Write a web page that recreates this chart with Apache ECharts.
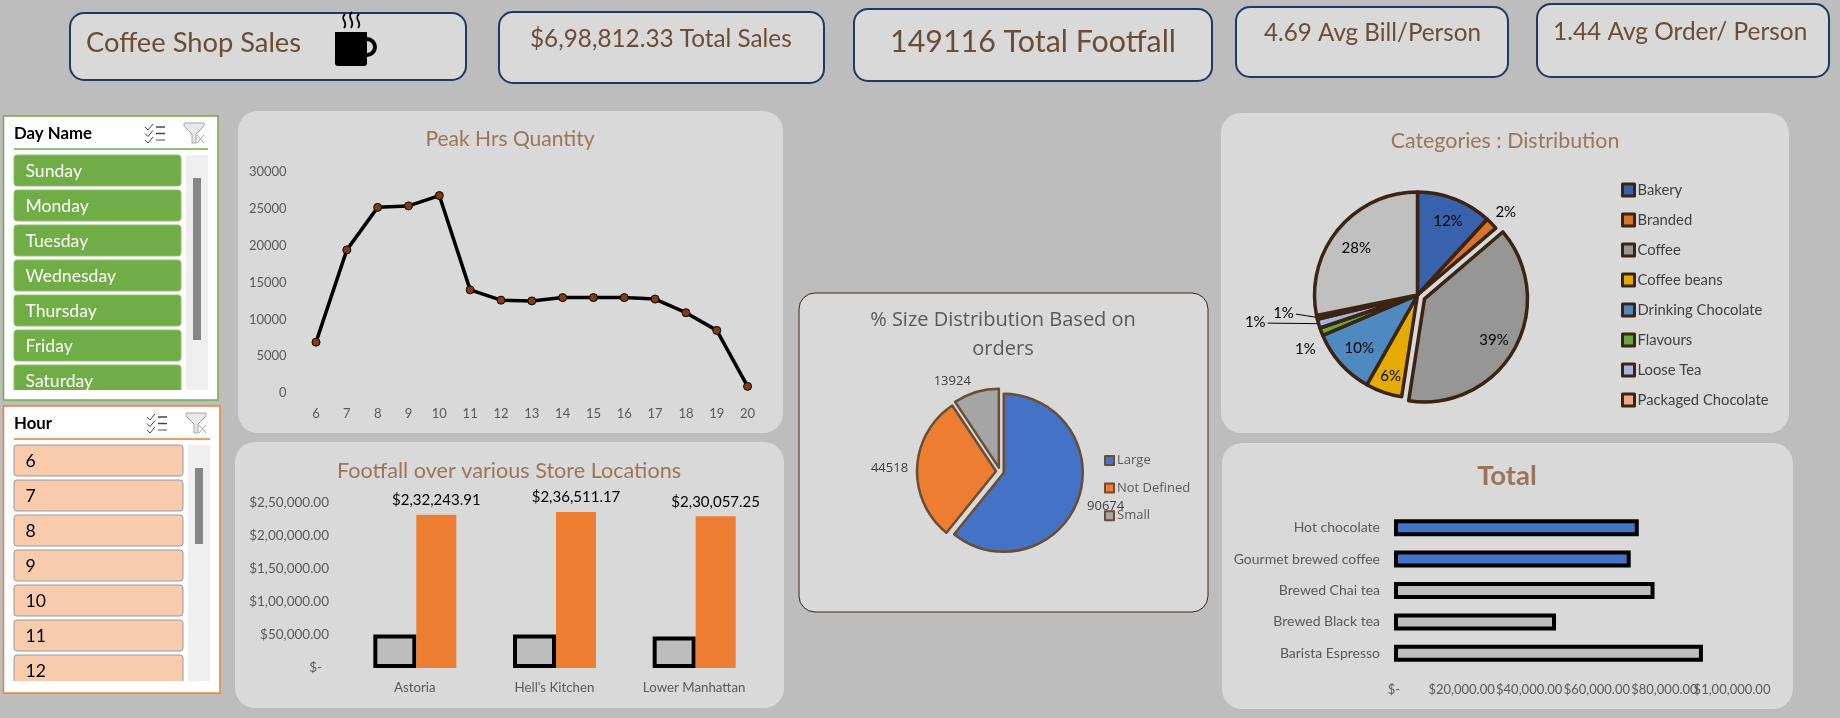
<!DOCTYPE html>
<html><head><meta charset="utf-8">
<style>html,body{margin:0;padding:0;background:#bdbdbd}#c{width:1840px;height:718px}</style>
<script src="https://cdn.jsdelivr.net/npm/echarts@6/dist/echarts.min.js"></script>
</head><body><div id="c"></div>
<script>
const dayNames=['Sunday','Monday','Tuesday','Wednesday','Thursday','Friday','Saturday'];
const hourItems=['6','7','8','9','10','11','12'];
const hours=['6','7','8','9','10','11','12','13','14','15','16','17','18','19','20'];
const hourlyQty=[6900,19430,25200,25400,26800,14000,12600,12500,12950,12950,12950,12750,10900,8500,900];
const stores=['Astoria',"Hell's Kitchen",'Lower Manhattan'];
const storeFootfall=[50599,50735,47782];
const storeSales=[232243.91,236511.17,230057.25];
const storeSalesText=['$2,32,243.91','$2,36,511.17','$2,30,057.25'];
const sizeNames=['Large','Not Defined','Small'];
const sizeOrders=[90674,44518,13924];
const categoryNames=['Bakery','Branded','Coffee','Coffee beans','Drinking Chocolate','Flavours','Loose Tea','Packaged Chocolate','Tea'];
const categoryShare=[11.8,1.9,38.6,5.7,10.4,1.2,1.4,0.6,28.1];
const products=['Barista Espresso','Brewed Black tea','Brewed Chai tea','Gourmet brewed coffee','Hot chocolate'];
const productSales=[91406,47932,77082,70035,72416];

const BG='#d9d9d9',NAVY='#1f3864',KPI='#6b4c34',TITLE='#9c7558',GREY='#595959';
const F='Lato';
const money=v=>{
  if(v===0) return '$-';
  if(v<100000) return '$'+(v/1000)+',000.00';
  const lakh=Math.floor(v/100000), rest=String((v%100000)/1000).padStart(2,'0');
  return '$'+lakh+','+rest+',000.00';
};
const card=(x,y,w,h,r,stroke,lw)=>({type:'rect',shape:{x,y,width:w,height:h,r},style:{fill:BG,stroke:stroke||null,lineWidth:lw||0}});
const txt=(x,y,t,size,fill,extra)=>({type:'text',x,y,style:Object.assign({text:t,font:`${size}px ${F}`,fill,verticalAlign:'middle'},extra||{})});

function slicer(o){
  const g=[];
  g.push({type:'rect',shape:{x:o.x,y:o.y,width:o.w,height:o.h},style:{fill:'#fff',stroke:o.accent,lineWidth:1.5}});
  g.push(txt(o.x+10.5,o.titleY,o.title,16.8,'#000',{font:`bold 16.8px ${F}`}));
  g.push({type:'line',shape:{x1:14,y1:o.lineY,x2:o.lineX2,y2:o.lineY},style:{stroke:o.accent,lineWidth:1.5}});
  o.items.forEach((t,i)=>{
    const y=o.itemY+i*35;
    g.push({type:'rect',shape:{x:14,y,width:o.itemW,height:31,r:3},style:{fill:o.fill,stroke:o.border,lineWidth:1}});
    g.push(txt(25.5,y+16.4,t,17.6,o.color));
  });
  g.push({type:'rect',shape:{x:o.x+2,y:o.clipY,width:o.w-4,height:o.y+o.h-o.clipY-2},style:{fill:'#fff'}});
  g.push({type:'rect',shape:{x:o.sbX,y:o.itemY,width:22,height:o.clipY-o.itemY},style:{fill:'#efefef'}});
  g.push({type:'rect',shape:{x:o.sbX+7,y:o.thumbY,width:8,height:o.thumbH},style:{fill:'#868686'}});
  const cx=o.iconX,cy=o.iconY;
  [0,6.5,13].forEach(d=>{
    g.push({type:'polyline',shape:{points:[[cx,cy+3+d],[cx+3,cy+6+d],[cx+8,cy+d]]},style:{stroke:'#444',lineWidth:1,fill:null}});
    g.push({type:'line',shape:{x1:cx+11,y1:cy+3+d,x2:cx+20,y2:cy+3+d},style:{stroke:d==13?'#8a8a8a':'#444',lineWidth:1.5}});
  });
  const fx=o.iconX+39,fy=o.iconY-1;
  g.push({type:'polygon',shape:{points:[[fx,fy],[fx+20,fy],[fx+20,fy+3],[fx+12,fy+11],[fx+12,fy+20],[fx+8,fy+20],[fx+8,fy+11],[fx,fy+3]]},style:{fill:'#e8e8e8',stroke:'#a6a6a6',lineWidth:1}});
  g.push({type:'line',shape:{x1:fx+13,y1:fy+12,x2:fx+20,y2:fy+20},style:{stroke:'#a6a6a6',lineWidth:1}});
  g.push({type:'line',shape:{x1:fx+20,y1:fy+12,x2:fx+13,y2:fy+20},style:{stroke:'#a6a6a6',lineWidth:1}});
  return g;
}

const graphicEls=[
  card(70,13,396,67,14,NAVY,2),
  card(499,12,325,71,14,NAVY,2),
  card(854,9,358,72,14,NAVY,2),
  card(1236,7,272,70,14,NAVY,2),
  card(1537,4,292,73,14,NAVY,2),
  card(238,111,545,322,20),
  card(235,442,549,266,20),
  card(799,293,409,319,16,'#3b2412',1),
  card(1221,113,568,320,20),
  card(1222,443,571,266,20),
  txt(86,43,'Coffee Shop Sales',27.3,KPI),
  txt(530,39,'$6,98,812.33 Total Sales',24.3,KPI),
  txt(890,42,'149116 Total Footfall',30.4,KPI),
  txt(1264,33,'4.69 Avg Bill/Person',24.2,KPI),
  txt(1553,32,'1.44 Avg Order/ Person',24.4,KPI),
  {type:'rect',shape:{x:335,y:32,width:32,height:34,r:[0,0,3,3]},style:{fill:'#000'}},
  {type:'arc',shape:{cx:367,cy:47,r:8,startAngle:-Math.PI/2,endAngle:Math.PI/2},style:{stroke:'#000',lineWidth:4,fill:null}},
  ...[344,351,358].map((x,i)=>({type:'bezierCurve',shape:{x1:x+1,y1:i==1?12:14,cpx1:x-5,cpy1:i==1?18:20,cpx2:x+5,cpy2:21,x2:x-0,y2:28},style:{stroke:'#000',lineWidth:1.8,fill:null}})),
  ...slicer({x:3.5,y:116,w:214.5,h:284,accent:'#70ad47',title:'Day Name',titleY:134,lineY:149,lineX2:208,items:dayNames,itemY:155,itemW:167,fill:'#70ad47',border:'#8fc06e',color:'#fff',clipY:390,sbX:186,thumbY:178,thumbH:162,iconX:145,iconY:124}),
  ...slicer({x:3.5,y:406,w:216.5,h:287,accent:'#ed7d31',title:'Hour',titleY:424,lineY:439,lineX2:210,items:hourItems,itemY:445,itemW:169,fill:'#f8cbad',border:'#9a9a9a',color:'#000',clipY:681,sbX:188,thumbY:468,thumbH:76,iconX:147,iconY:414})
];

const catNudge=[[10.6,-23],[-15,-6],[22,15],[-9,30],[-17.6,17],[15,-4],[-34,-14],[-5,-6],[-19,-12]];
const sizeNudge=[[-4,6],[4,1],[5,-7]];
const CAT_C=[1417.5,295],CAT_R=103;
const catTotal=categoryShare.reduce((a,b)=>a+b,0);
function sliceEdge(i){ // where a slice's middle meets the rim of the pie
  const before=categoryShare.slice(0,i).reduce((a,b)=>a+b,0);
  const ang=(before+categoryShare[i]/2)/catTotal*2*Math.PI;
  return [CAT_C[0]+CAT_R*Math.sin(ang),CAT_C[1]-CAT_R*Math.cos(ang)];
}

const option={
  animation:false,
  backgroundColor:'#bdbdbd',
  textStyle:{fontFamily:F},
  graphic:{elements:graphicEls},
  title:[
    {text:'Peak Hrs Quantity',left:510,top:129,padding:0,textAlign:'center',textStyle:{fontFamily:F,fontSize:21,fontWeight:'normal',color:TITLE}},
    {text:'Footfall over various Store Locations',left:509,top:460,padding:0,textAlign:'center',textStyle:{fontFamily:F,fontSize:21.6,fontWeight:'normal',color:TITLE}},
    {text:'% Size Distribution Based on\norders',left:1003,top:306,padding:0,textAlign:'center',textStyle:{fontFamily:'Open Sans',fontSize:20,fontWeight:'normal',color:GREY,lineHeight:29}},
    {text:'Categories : Distribution',left:1505,top:131,padding:0,textAlign:'center',textStyle:{fontFamily:F,fontSize:21.4,fontWeight:'normal',color:TITLE}},
    {text:'Total',left:1507,top:462,padding:0,textAlign:'center',textStyle:{fontFamily:F,fontSize:27.5,fontWeight:'bold',color:TITLE}}
  ],
  grid:[
    {left:300.6,width:462.4,top:172,height:221},
    {left:345,width:419,top:503,height:165},
    {left:1394,width:338,top:512,height:157}
  ],
  xAxis:[
    {gridIndex:0,type:'category',data:hours,axisLine:{show:false},axisTick:{show:false},axisLabel:{color:GREY,fontSize:13,margin:14}},
    {gridIndex:1,type:'category',data:stores,axisLine:{show:false},axisTick:{show:false},axisLabel:{color:GREY,fontSize:13.3,margin:13}},
    {gridIndex:2,type:'value',position:'bottom',min:0,max:100000,interval:20000,splitLine:{show:false},axisLine:{show:false},axisTick:{show:false},
     axisLabel:{color:GREY,fontSize:13,margin:14,showMinLabel:true,showMaxLabel:false,formatter:money}},
    {gridIndex:2,type:'value',position:'bottom',min:0,max:100000,interval:20000,splitLine:{show:false},axisLine:{show:false},axisTick:{show:false},
     axisLabel:{color:GREY,fontSize:13,margin:14,showMinLabel:false,showMaxLabel:true,formatter:v=>v===100000?money(v):''}}
  ],
  yAxis:[
    {gridIndex:0,type:'value',min:0,max:30000,interval:5000,splitLine:{show:false},axisLine:{show:false},axisTick:{show:false},axisLabel:{color:GREY,fontSize:13,margin:14,formatter:v=>String(v)}},
    {gridIndex:1,type:'value',min:0,max:250000,interval:50000,splitLine:{show:false},axisLine:{show:false},axisTick:{show:false},
     axisLabel:{color:GREY,fontSize:13.5,margin:16,formatter:v=>v===0?'$-  ':money(v)}},
    {gridIndex:2,type:'category',data:products,axisLine:{show:false},axisTick:{show:false},axisLabel:{color:GREY,fontSize:14,margin:14}}
  ],
  legend:[
    {data:sizeNames,left:1104,top:454,padding:0,orient:'vertical',itemWidth:9,itemHeight:9,itemGap:14.6,selectedMode:false,icon:'rect',itemStyle:{borderColor:'#6b4c34',borderWidth:2},textStyle:{fontFamily:'Open Sans',fontSize:13,color:GREY,padding:[0,0,0,-2]}},
    {data:categoryNames.slice(0,8),left:1621,top:182.4,padding:0,orient:'vertical',itemWidth:12,itemHeight:12,itemGap:15,selectedMode:false,icon:'rect',itemStyle:{borderColor:'#3b2412',borderWidth:3},textStyle:{fontSize:14.8,color:'#404040',padding:[0,0,0,-2]}}
  ],
  series:[
    {type:'line',xAxisIndex:0,yAxisIndex:0,data:hourlyQty,symbol:'circle',symbolSize:8,lineStyle:{color:'#000',width:3.5},itemStyle:{color:'#843c0c',borderColor:'#000',borderWidth:1}},
    {type:'bar',xAxisIndex:1,yAxisIndex:1,data:storeFootfall,barWidth:43,barGap:'0%',itemStyle:{color:'#bdbdbd',borderColor:'#000',borderWidth:4}},
    {type:'bar',xAxisIndex:1,yAxisIndex:1,data:storeSales,barWidth:40,barGap:'0%',itemStyle:{color:'#ed7d31'},label:{show:true,position:'top',distance:7,color:'#000',fontSize:15,formatter:p=>storeSalesText[p.dataIndex]}},
    {type:'bar',xAxisIndex:2,yAxisIndex:2,data:productSales.map((v,i)=>({value:v,itemStyle:{color:i>=3?'#4472c4':'#bdbdbd'}})),barWidth:17,itemStyle:{borderColor:'#000',borderWidth:4}},
    {type:'pie',center:[1000,471.5],radius:79,selectedMode:'multiple',selectedOffset:4,
     data:sizeNames.map((n,i)=>({name:n,value:sizeOrders[i],selected:true,itemStyle:{color:['#4472c4','#ed7d31','#a5a5a5'][i]}})),
     itemStyle:{borderColor:'#6b4c34',borderWidth:2.5},
     label:{position:'outside',formatter:'{c}',fontFamily:'Open Sans',fontSize:13,color:'#404040'},labelLine:{show:false,length:4,length2:4},
     labelLayout:p=>({dx:sizeNudge[p.dataIndex][0],dy:sizeNudge[p.dataIndex][1]})},
    {type:'pie',center:CAT_C,radius:CAT_R,selectedMode:'single',selectedOffset:8,
     data:categoryNames.map((n,i)=>({name:n,value:categoryShare[i],selected:n==='Coffee',
        label:{position:i===1||(i>=5&&i<=7)?'outside':'inside'},
        labelLine:{show:i===6||i===7,lineStyle:{color:'#000',width:1}},
        itemStyle:{color:['#3a62ac','#d8752a','#969696','#e5ac00','#4e8abf','#6aa63e','#a6b4e2','#f0a988','#c0c0c0'][i]}})),
     itemStyle:{borderColor:'#3b2412',borderWidth:3.5},
     label:{formatter:p=>Math.round(p.value)+'%',fontSize:15,color:'#000'},labelLine:{length:8,length2:8},
     labelLayout:p=>{
       const i=p.dataIndex,d=catNudge[i],out={dx:d[0],dy:d[1]};
       if(i===6||i===7){
         const r=p.labelRect,e=sliceEdge(i),sx=r.x+r.width+d[0]+2,sy=r.y+r.height/2+d[1]+1;
         out.labelLinePoints=[[sx,sy],[(sx+e[0])/2,(sy+e[1])/2],e];
       }
       return out;
     }}
  ]
};
const chart=echarts.init(document.getElementById('c'),null,{width:1840,height:718,renderer:'canvas'});
chart.setOption(option);
</script></body></html>
